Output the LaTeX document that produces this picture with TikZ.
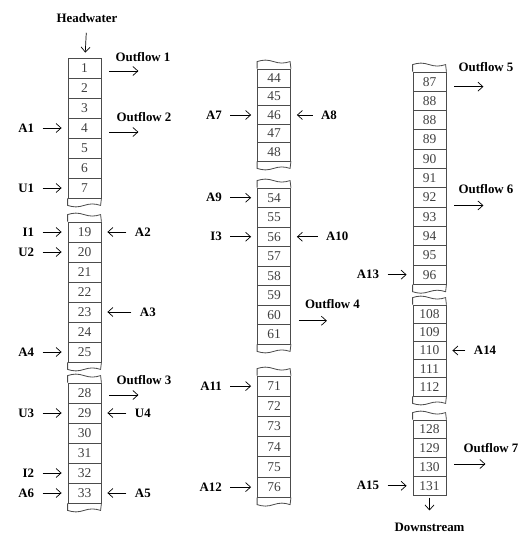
\documentclass[tikz,border=0pt]{standalone}
\usepackage{fontspec}
\setmainfont{Liberation Serif}
\usetikzlibrary{arrows.meta,positioning,calc}

% wavy ends where a reach is cut
\newcommand{\cuttop}[1]{\draw[cutline] (#1.north west) -- ++(0,-7) sin ++(8.25,-1.5) cos ++(8.25,1.5) sin ++(8.25,1.5) cos ++(8.25,-1.5) -- (#1.north east);}
\newcommand{\cutbot}[1]{\draw[cutline] (#1.south west) -- ++(0,7) sin ++(8.25,1.5) cos ++(8.25,-1.5) sin ++(8.25,-1.5) cos ++(8.25,1.5) -- (#1.south east);}

\begin{document}
\begin{tikzpicture}[x=0.03cm, y=-0.03cm,
    cell/.style={draw=black!70, line width=0.7pt, minimum width=0.99cm,
                 minimum height=#1*0.03cm, inner sep=0pt, text=black!75,
                 font=\fontsize{11.5}{12}\selectfont},
    cell/.default=20,
    lbl/.style={font=\fontsize{11}{12}\selectfont\bfseries, inner sep=0pt},
    cutline/.style={draw=black!70, line width=0.7pt},
    arrow/.style={-{Straight Barb[length=1.5mm,width=2.7mm]}, line width=0.6pt,
                  shorten <=0.25cm, shorten >=0.18cm},
    outarrow/.style={arrow, shorten <=0.24cm, shorten >=0pt},
]
    \useasboundingbox (0,0) rectangle (524,541);

    % column 1
    \foreach \n [count=\i from 0] in {1,...,7}
        \node[cell] (c\n) at (84.5,68+20*\i) {\n};
    \foreach \n [count=\i from 0] in {19,...,25}
        \node[cell] (c\n) at (84.5,232+20*\i) {\n};
    \foreach \n [count=\i from 0] in {28,...,33}
        \node[cell] (c\n) at (84.5,393+20*\i) {\n};
    \cutbot{c7} \cuttop{c19} \cutbot{c25} \cuttop{c28} \cutbot{c33}

    % column 2
    \foreach \n [count=\i from 0] in {44,...,48}
        \node[cell=18.4] (c\n) at (274,78.2+18.4*\i) {\n};
    \foreach \n [count=\i from 0] in {54,...,61}
        \node[cell=19.5] (c\n) at (274,197.75+19.5*\i) {\n};
    \foreach \n [count=\i from 0] in {71,...,76}
        \node[cell=20.2] (c\n) at (274,386.1+20.2*\i) {\n};
    \cuttop{c44} \cutbot{c48} \cuttop{c54} \cutbot{c61} \cuttop{c71} \cutbot{c76}

    % column 3
    \foreach \n [count=\i from 0] in {87,88,88,89,90,91,92,93,94,95,96}
        \node[cell=19.3] (c\n) at (429.5,81.65+19.3*\i) {\n};
    \foreach \n [count=\i from 0] in {108,...,112}
        \node[cell=18.2] (c\n) at (429.5,314.1+18.2*\i) {\n};
    \foreach \n [count=\i from 0] in {128,...,131}
        \node[cell=18.8] (c\n) at (429.5,429.4+18.8*\i) {\n};
    \cuttop{c87} \cutbot{c96} \cuttop{c108} \cutbot{c112} \cuttop{c128}

    % boundary flows
    \node[lbl] (head) at (87,18) {Headwater};
    \draw[arrow, shorten <=0.3cm, shorten >=0.15cm] (head) -- (c1);
    \node[lbl] (down) at (429.5,527) {Downstream};
    \draw[arrow, shorten <=0.06cm, shorten >=0.36cm] (c131) -- (down);

    % lateral inflows from the left
    \node[lbl, left=1cm of c4] (a1) {A1};
    \node[lbl, left=1cm of c7] (u1) {U1};
    \node[lbl, left=1cm of c19] (i1) {I1};
    \node[lbl, left=1cm of c20] (u2) {U2};
    \node[lbl, left=1cm of c25] (a4) {A4};
    \node[lbl, left=1cm of c29] (u3) {U3};
    \node[lbl, left=1cm of c32] (i2) {I2};
    \node[lbl, left=1cm of c33] (a6) {A6};
    \node[lbl, left=1.05cm of c46] (a7) {A7};
    \node[lbl, left=1.05cm of c54] (a9) {A9};
    \node[lbl, left=1.05cm of c56] (i3) {I3};
    \node[lbl, left=1.05cm of c71] (a11) {A11};
    \node[lbl, left=1.05cm of c76] (a12) {A12};
    \node[lbl, left=1cm of c96] (a13) {A13};
    \node[lbl, left=1cm of c131] (a15) {A15};
    \foreach \s/\t in {a1/c4,u1/c7,i1/c19,u2/c20,a4/c25,u3/c29,i2/c32,a6/c33,
                       a7/c46,a9/c54,i3/c56,a11/c71,a12/c76,a13/c96,a15/c131}
        \draw[arrow] (\s) -- (\t);

    % lateral inflows from the right
    \node[lbl, right=1cm of c19] (a2) {A2};
    \node[lbl, right=1.15cm of c23] (a3) {A3};
    \node[lbl, right=1cm of c29] (u4) {U4};
    \node[lbl, right=1cm of c33] (a5) {A5};
    \node[lbl, right=0.9cm of c46] (a8) {A8};
    \node[lbl, right=1.05cm of c56] (a10) {A10};
    \node[lbl, right=0.82cm of c110] (a14) {A14};
    \foreach \s/\t in {a2/c19,a3/c23,u4/c29,a5/c33,a8/c46,a10/c56,a14/c110}
        \draw[arrow] (\s) -- (\t);

    % outflows
    \coordinate (o1) at ($(c1.east)+(37,3)$);
    \draw[outarrow] (c1.east |- o1) -- (o1);
    \node[lbl, anchor=base west] (out1) at ($(c1.east)+(14,-6)$) {Outflow 1};
    \coordinate (o2) at ($(c4.east)+(37,4)$);
    \draw[outarrow] (c4.east |- o2) -- (o2);
    \node[lbl, anchor=base west] (out2) at ($(c4.east)+(15,-6)$) {Outflow 2};
    \coordinate (o3) at ($(c28.east)+(37,2)$);
    \draw[outarrow] (c28.east |- o3) -- (o3);
    \node[lbl, anchor=base west] (out3) at ($(c28.east)+(15,-9)$) {Outflow 3};
    \coordinate (o4) at ($(c60.east)+(36,6)$);
    \draw[outarrow] (c60.east |- o4) -- (o4);
    \node[lbl, anchor=base west] (out4) at ($(c60.east)+(14,-6)$) {Outflow 4};
    \coordinate (o5) at ($(c87.east)+(37,5)$);
    \draw[outarrow] (c87.east |- o5) -- (o5);
    \node[lbl, anchor=base west] (out5) at ($(c87.east)+(12,-10)$) {Outflow 5};
    \coordinate (o6) at ($(c92.east)+(37,8)$);
    \draw[outarrow] (c92.east |- o6) -- (o6);
    \node[lbl, anchor=base west] (out6) at ($(c92.east)+(12,-4)$) {Outflow 6};
    \coordinate (o7) at ($(c130.east)+(39,-3)$);
    \draw[outarrow] (c130.east |- o7) -- (o7);
    \node[lbl, anchor=base west] (out7) at ($(c130.east)+(17,-15)$) {Outflow 7};
\end{tikzpicture}
\end{document}
